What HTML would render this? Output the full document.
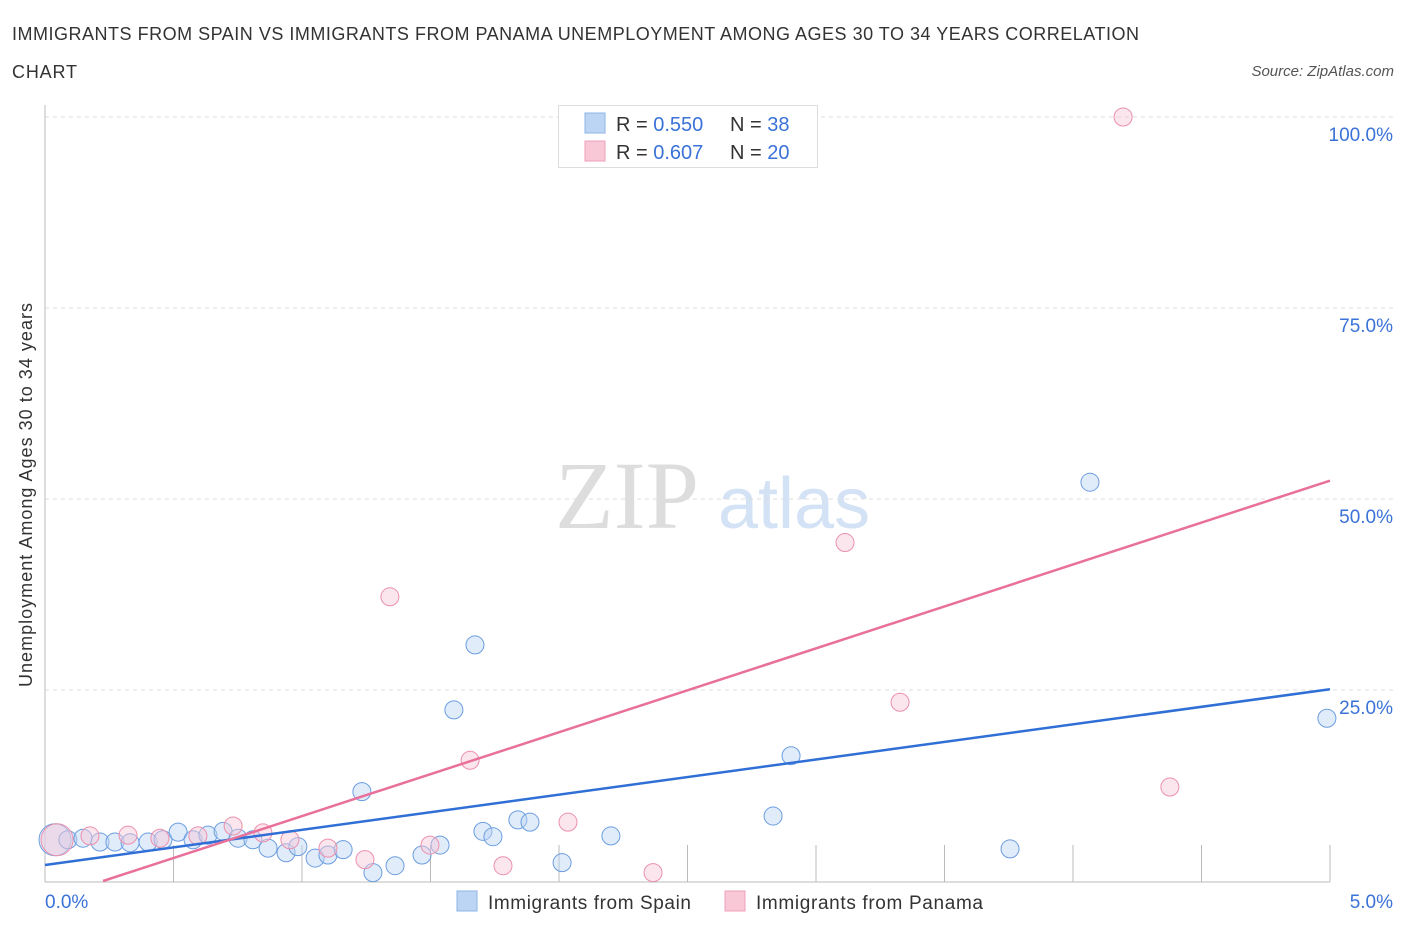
<!DOCTYPE html>
<html><head><meta charset="utf-8"><style>
body{margin:0;background:#fff;font-family:"Liberation Sans",sans-serif;}
svg text{font-family:"Liberation Sans",sans-serif;}
</style></head><body>
<svg id="c" width="1406" height="930" viewBox="0 0 1406 930">
<text x="12" y="40" font-size="18" fill="#333" textLength="1127" lengthAdjust="spacing">IMMIGRANTS FROM SPAIN VS IMMIGRANTS FROM PANAMA UNEMPLOYMENT AMONG AGES 30 TO 34 YEARS CORRELATION</text>
<text x="12" y="78" font-size="18" fill="#333" textLength="65" lengthAdjust="spacing">CHART</text>
<text x="1394" y="76" font-size="15" fill="#555" font-style="italic" text-anchor="end">Source: ZipAtlas.com</text>
<g>
<text x="555" y="528" font-size="96" fill="#ddd" font-family="Liberation Serif" style="font-family:'Liberation Serif',serif">ZIP</text>
<text x="718" y="528" font-size="72" fill="#d4e2f5">atlas</text>
</g>
<g id="grid"></g>
<g id="axes"></g>
<g id="pts"></g>
<g id="lines"></g>
<text x="32" y="495" font-size="18" fill="#333" text-anchor="middle" transform="rotate(-90 32 495)" textLength="384" lengthAdjust="spacing">Unemployment Among Ages 30 to 34 years</text>
<text x="45" y="908" font-size="19" fill="#3a72d8">0.0%</text>
<text x="1393" y="908" font-size="19" fill="#3a72d8" text-anchor="end">5.0%</text>
<g>
<rect x="558.5" y="105.5" width="259" height="62" fill="#fff" stroke="#ddd"/>
<rect x="585" y="113" width="20" height="20" fill="#bcd5f5" stroke="#8fb4e8"/>
<rect x="585" y="141" width="20" height="20" fill="#f9c8d6" stroke="#eea0b8"/>
<text x="616" y="131" font-size="20" fill="#333">R = <tspan fill="#3a72d8">0.550</tspan></text>
<text x="730" y="131" font-size="20" fill="#333">N = <tspan fill="#3a72d8">38</tspan></text>
<text x="616" y="159" font-size="20" fill="#333">R = <tspan fill="#3a72d8">0.607</tspan></text>
<text x="730" y="159" font-size="20" fill="#333">N = <tspan fill="#3a72d8">20</tspan></text>
</g>
<g>
<rect x="457" y="891" width="20" height="20" fill="#bcd5f5" stroke="#8fb4e8"/>
<text x="488" y="909" font-size="19" fill="#333" textLength="203" lengthAdjust="spacing">Immigrants from Spain</text>
<rect x="725" y="891" width="20" height="20" fill="#f9c8d6" stroke="#eea0b8"/>
<text x="756" y="909" font-size="19" fill="#333" textLength="227" lengthAdjust="spacing">Immigrants from Panama</text>
</g>
</svg>
<script>
const yTicks=[25,50,75,100];
const yTickLabels=["25.0%","50.0%","75.0%","100.0%"];
const xTicks=[0.5,1,1.5,2,2.5,3,3.5,4,4.5,5];
const spainX=[0.039,0.089,0.148,0.214,0.272,0.331,0.401,0.459,0.518,0.576,0.634,0.693,0.751,0.809,0.868,0.938,0.984,1.051,1.101,1.160,1.233,1.276,1.362,1.467,1.537,1.591,1.673,1.704,1.743,1.840,1.887,2.012,2.202,2.833,2.903,3.755,4.066,4.988];
const spainY=[5.4,5.4,5.6,5.1,5.1,5.0,5.1,5.4,6.4,5.4,6.0,6.5,5.6,5.4,4.3,3.7,4.5,3.0,3.4,4.1,11.7,1.1,2.0,3.4,4.7,22.4,30.9,6.5,5.8,8.0,7.7,2.4,5.9,8.5,16.4,4.2,52.2,21.3];
const panamaX=[0.047,0.175,0.323,0.447,0.595,0.732,0.848,0.953,1.101,1.245,1.342,1.498,1.654,1.782,2.035,2.366,3.113,3.327,4.195,4.377];
const panamaY=[5.4,5.9,6.0,5.6,5.9,7.2,6.3,5.4,4.3,2.8,37.2,4.7,15.8,2.0,7.7,1.1,44.3,23.4,100,12.3];
const spainTrend=[[0,2.1],[5,25.1]];
const panamaTrend=[[0.226,0],[5,52.4]];
const NS='http://www.w3.org/2000/svg';
const sx=v=>45+v*257, sy=v=>881-v*7.64;
function mk(p,t,a){const e=document.createElementNS(NS,t);for(const k in a)e.setAttribute(k,a[k]);p.appendChild(e);return e;}
const g=document.getElementById('grid'),ax=document.getElementById('axes'),pts=document.getElementById('pts'),ln=document.getElementById('lines');
yTicks.forEach((t,i)=>{
 const l=mk(g,'line',{x1:45,x2:1395,y1:sy(t),y2:sy(t),stroke:'#ddd','stroke-dasharray':'4 4'});
 
 
 const tx=mk(g,'text',{x:1393,y:sy(t)+24,'font-size':19,fill:'#3a72d8','text-anchor':'end'});
 tx.textContent=yTickLabels[i];
 
 
});
const la=mk(ax,'line',{x1:45,x2:45,y1:105,y2:882,stroke:'#bbb'});


const ba=mk(ax,'line',{x1:45,x2:1330,y1:882,y2:882,stroke:'#bbb'});


xTicks.forEach(t=>{
 const l=mk(ax,'line',{x1:sx(t),x2:sx(t),y1:845,y2:882,stroke:'#bbb'});
 
 
});
function dots(X,Y,fill,stroke,name){X.forEach((x,i)=>{
 const r=i==0?16:9;
 const c=mk(pts,'circle',{cx:sx(x),cy:sy(Y[i]),r:r,fill:fill,'fill-opacity':0.45,stroke:stroke,'stroke-width':1});
 
 
});}
dots(spainX,spainY,'#bcd5f5','#6b9de0','spain-point');
dots(panamaX,panamaY,'#f9c8d6','#eb90ad','panama-point');
function trend(T,col,name){const l=mk(ln,'line',{x1:sx(T[0][0]),y1:sy(T[0][1]),x2:sx(T[1][0]),y2:sy(T[1][1]),stroke:col,'stroke-width':2.5});
 
 }
trend(spainTrend,'#2f6fd6','spain-trendline');
trend(panamaTrend,'#e8709a','panama-trendline');
</script>
</body></html>
